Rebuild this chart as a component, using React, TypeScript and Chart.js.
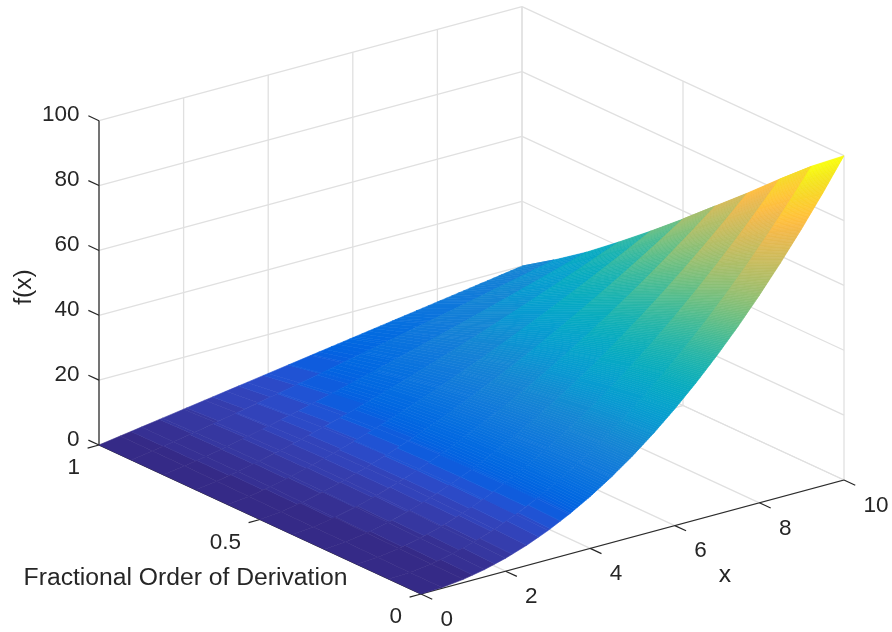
import React, { useEffect, useRef } from "react";
import Chart from "chart.js/auto";

const xValues = [0, 0.5, 1, 1.5, 2, 2.5, 3, 3.5, 4, 4.5, 5, 5.5, 6, 6.5, 7, 7.5, 8, 8.5, 9, 9.5, 10];
const orderValues = [0, 0.1, 0.2, 0.3, 0.4, 0.5, 0.6, 0.7, 0.8, 0.9, 1];

const fOrder00 = [0, 0.25, 1, 2.25, 4, 6.25, 9, 12.25, 16, 20.25, 25, 30.25, 36, 42.25, 49, 56.25, 64, 72.25, 81, 90.25, 100];
const fOrder01 = [0, 0.31, 1.16, 2.51, 4.33, 6.62, 9.36, 12.55, 16.17, 20.23, 24.71, 29.61, 34.94, 40.68, 46.83, 53.39, 60.36, 67.72, 75.49, 83.66, 92.2];
const fOrder02 = [0, 0.38, 1.33, 2.75, 4.61, 6.89, 9.57, 12.63, 16.07, 19.86, 24.01, 28.5, 33.34, 38.5, 44, 49.81, 55.95, 62.4, 69.16, 76.24, 83.6];
const fOrder03 = [0, 0.46, 1.49, 2.97, 4.84, 7.07, 9.64, 12.53, 15.73, 19.22, 22.99, 27.03, 31.34, 35.9, 40.73, 45.79, 51.11, 56.65, 62.44, 68.45, 74.7];
const fOrder04 = [0, 0.55, 1.66, 3.18, 5.03, 7.19, 9.63, 12.32, 15.26, 18.42, 21.8, 25.39, 29.19, 33.17, 37.35, 41.71, 46.25, 50.96, 55.84, 60.89, 66.1];
const fOrder05 = [0, 0.64, 1.82, 3.34, 5.14, 7.19, 9.45, 11.9, 14.54, 17.35, 20.33, 23.45, 26.72, 30.13, 33.67, 37.34, 41.14, 45.05, 49.09, 53.23, 57.5];
const fOrder06 = [0, 0.74, 1.96, 3.46, 5.17, 7.07, 9.12, 11.32, 13.64, 16.09, 18.65, 21.31, 24.07, 26.92, 29.87, 32.9, 36.01, 39.2, 42.46, 45.8, 49.2];
const fOrder07 = [0, 0.84, 2.07, 3.5, 5.08, 6.8, 8.62, 10.53, 12.52, 14.59, 16.73, 18.94, 21.21, 23.53, 25.91, 28.35, 30.83, 33.36, 35.93, 38.55, 41.2];
const fOrder08 = [0, 0.92, 2.11, 3.44, 4.86, 6.35, 7.9, 9.51, 11.16, 12.85, 14.58, 16.35, 18.15, 19.98, 21.84, 23.73, 25.64, 27.57, 29.53, 31.51, 33.5];
const fOrder09 = [0, 0.98, 2.11, 3.29, 4.51, 5.77, 7.05, 8.35, 9.67, 11.01, 12.36, 13.73, 15.11, 16.5, 17.9, 19.31, 20.74, 22.17, 23.6, 25.05, 26.5];
const fOrder10 = [0, 1, 2, 3, 4, 5, 6, 7, 8, 9, 10, 11, 12, 13, 14, 15, 16, 17, 18, 19, 20];
const surfaceRows = [fOrder00, fOrder01, fOrder02, fOrder03, fOrder04, fOrder05, fOrder06, fOrder07, fOrder08, fOrder09, fOrder10];

const xTicks = [0, 2, 4, 6, 8, 10];
const orderTicks = [0, 0.5, 1];
const orderTickLabels = ["0", "0.5", "1"];
const zTicks = [0, 20, 40, 60, 80, 100];

const parula = [
  [0.2081, 0.1663, 0.5292], [0.2116, 0.1898, 0.5777], [0.2123, 0.2138, 0.627], [0.2081, 0.2386, 0.6771],
  [0.1959, 0.2645, 0.7279], [0.1707, 0.2919, 0.7792], [0.1253, 0.3242, 0.8303], [0.0591, 0.3598, 0.8683],
  [0.0117, 0.3875, 0.882], [0.006, 0.4086, 0.8828], [0.0165, 0.4266, 0.8786], [0.0329, 0.443, 0.872],
  [0.0498, 0.4586, 0.8641], [0.0629, 0.4737, 0.8554], [0.0723, 0.4887, 0.8467], [0.0779, 0.504, 0.8384],
  [0.0793, 0.52, 0.8312], [0.0749, 0.5375, 0.8263], [0.0641, 0.557, 0.824], [0.0488, 0.5772, 0.8228],
  [0.0343, 0.5966, 0.8199], [0.0265, 0.6137, 0.8135], [0.0239, 0.6287, 0.8038], [0.0231, 0.6418, 0.7913],
  [0.0228, 0.6535, 0.7768], [0.0267, 0.6642, 0.7607], [0.0384, 0.6743, 0.7436], [0.059, 0.6838, 0.7254],
  [0.0843, 0.6928, 0.7062], [0.1133, 0.7015, 0.6859], [0.1453, 0.7098, 0.6646], [0.1801, 0.7177, 0.6424],
  [0.2178, 0.725, 0.6193], [0.2586, 0.7317, 0.5954], [0.3022, 0.7376, 0.5712], [0.3482, 0.7424, 0.5473],
  [0.3953, 0.7459, 0.5244], [0.442, 0.7481, 0.5033], [0.4871, 0.7491, 0.484], [0.53, 0.7491, 0.4661],
  [0.5709, 0.7485, 0.4494], [0.6099, 0.7473, 0.4337], [0.6473, 0.7456, 0.4188], [0.6834, 0.7435, 0.4044],
  [0.7184, 0.7411, 0.3905], [0.7525, 0.7384, 0.3768], [0.7858, 0.7356, 0.3633], [0.8185, 0.7327, 0.3498],
  [0.8507, 0.7299, 0.336], [0.8824, 0.7274, 0.3217], [0.9139, 0.7258, 0.3063], [0.945, 0.7261, 0.2886],
  [0.9739, 0.7314, 0.2666], [0.9938, 0.7455, 0.2403], [0.999, 0.7653, 0.2164], [0.9955, 0.7861, 0.1967],
  [0.988, 0.8066, 0.1794], [0.9789, 0.8271, 0.1633], [0.9697, 0.8481, 0.1475], [0.9626, 0.8705, 0.1309],
  [0.9589, 0.8949, 0.1132], [0.9598, 0.9218, 0.0948], [0.9661, 0.9514, 0.0755], [0.9763, 0.9831, 0.0538],
];

const WIDTH = 892;
const HEIGHT = 632;
const INK = "#262626";
const GRID = "#e0e0e0";
const FONT = '"Liberation Sans", Arial, sans-serif';

// Orthographic view of the box (x, order, f) onto the page.
const project = (x: number, o: number, z: number) => ({
  x: 421 + x * 42.3 - o * 322,
  y: 594 - x * 11.4 - o * 149 - z * 3.243,
});

// Flat colormap levels at the dark, low end; a finer ramp above it.
const FLAT_BELOW = 12.5;
const FINE_STEP = 0.4;
const stepEdges = (z0: number, z1: number) => {
  const edges = [z0];
  let e = 0;
  while (e < z1) {
    e += e < FLAT_BELOW ? 100 / 64 : FINE_STEP;
    if (e > z0 && e < z1) edges.push(e);
  }
  edges.push(z1);
  return edges;
};
const colorAt = (z: number) => {
  let pos: number;
  if (z < FLAT_BELOW) pos = Math.floor((z / 100) * 64);
  else pos = Math.max(0, Math.min(63, (z / 100) * 64 - 0.5));
  const i = Math.min(62, Math.floor(pos));
  const t = pos - i;
  const a = parula[i], b = parula[i + 1];
  const ch = (k: number) => Math.round((a[k] + (b[k] - a[k]) * t) * 255);
  return `rgb(${ch(0)},${ch(1)},${ch(2)})`;
};

const lineSet = (a: number[], b: number[], color: string, width: number) => ({
  type: "scatter",
  showLine: true,
  data: [project(a[0], a[1], a[2]), project(b[0], b[1], b[2])],
  borderColor: color,
  borderWidth: width,
  pointRadius: 0,
  fill: false,
  order: 5,
  clip: false,
});

const buildDatasets = () => {
  const quads: any[] = [];
  // Front cells first: Chart.js paints the first dataset last.
  for (let j = 0; j < orderValues.length - 1; j++) {
    for (let i = xValues.length - 2; i >= 0; i--) {
      quads.push({
        type: "scatter",
        showLine: false,
        quad: true,
        zFrom: surfaceRows[j][i],
        zTo: surfaceRows[j][i + 1],
        data: [
          project(xValues[i], orderValues[j], surfaceRows[j][i]),
          project(xValues[i], orderValues[j + 1], surfaceRows[j + 1][i]),
          project(xValues[i + 1], orderValues[j + 1], surfaceRows[j + 1][i + 1]),
          project(xValues[i + 1], orderValues[j], surfaceRows[j][i + 1]),
        ],
        pointRadius: 0,
        order: 1,
        clip: false,
      });
    }
  }
  const grid: any[] = [];
  zTicks.forEach((z) => {
    grid.push(lineSet([0, 1, z], [10, 1, z], GRID, 1.3));
    grid.push(lineSet([10, 1, z], [10, 0, z], GRID, 1.3));
  });
  xTicks.forEach((x) => {
    grid.push(lineSet([x, 1, 0], [x, 1, 100], GRID, 1.3));
    grid.push(lineSet([x, 0, 0], [x, 1, 0], GRID, 1.3));
  });
  orderTicks.forEach((o) => {
    grid.push(lineSet([10, o, 0], [10, o, 100], GRID, 1.3));
    grid.push(lineSet([0, o, 0], [10, o, 0], GRID, 1.3));
  });
  const axes: any[] = [
    lineSet([0, 1, 0], [0, 1, 100], INK, 1.2),
    lineSet([0, 0, 0], [10, 0, 0], INK, 1.2),
    lineSet([0, 0, 0], [0, 1, 0], INK, 1.2),
  ];
  zTicks.forEach((z) => axes.push(lineSet([0, 1, z], [0, 1.033, z], INK, 1.2)));
  xTicks.forEach((x) => axes.push(lineSet([x, 0, 0], [x, -0.035, 0], INK, 1.2)));
  orderTicks.forEach((o) => axes.push(lineSet([0, o, 0], [-0.27, o, 0], INK, 1.2)));
  axes.forEach((d) => (d.order = 4));
  return [...quads, ...axes, ...grid];
};

const surfacePlugin = {
  id: "surfaceCells",
  afterDatasetDraw(chart: any, args: any) {
    const ds = chart.data.datasets[args.index];
    if (!ds.quad) return;
    const pts = args.meta.data;
    const ctx = chart.ctx;
    const A = pts[0], B = pts[1], D = pts[2], C = pts[3];
    const z0 = ds.zFrom, z1 = ds.zTo;
    const mix = (p: any, q: any, t: number) => ({ x: p.x + (q.x - p.x) * t, y: p.y + (q.y - p.y) * t });
    const edges = stepEdges(z0, z1);
    ctx.save();
    ctx.lineWidth = 0.6;
    ctx.lineJoin = "round";
    for (let k = 0; k < edges.length - 1; k++) {
      const ta = z1 > z0 ? (edges[k] - z0) / (z1 - z0) : 0;
      const tb = z1 > z0 ? (edges[k + 1] - z0) / (z1 - z0) : 1;
      const a = mix(A, C, ta), b = mix(B, D, ta), c = mix(B, D, tb), d = mix(A, C, tb);
      ctx.beginPath();
      ctx.moveTo(a.x, a.y);
      ctx.lineTo(b.x, b.y);
      ctx.lineTo(c.x, c.y);
      ctx.lineTo(d.x, d.y);
      ctx.closePath();
      const col = colorAt((edges[k] + edges[k + 1]) / 2);
      ctx.fillStyle = col;
      ctx.strokeStyle = col;
      ctx.fill();
      ctx.stroke();
    }
    ctx.restore();
  },
  afterDraw(chart: any) {
    const ctx = chart.ctx;
    const sx = chart.scales.x, sy = chart.scales.y;
    const at = (x: number, o: number, z: number) => {
      const p = project(x, o, z);
      return { x: sx.getPixelForValue(p.x), y: sy.getPixelForValue(p.y) };
    };
    ctx.save();
    ctx.fillStyle = INK;
    ctx.textBaseline = "middle";
    ctx.font = `22.5px ${FONT}`;
    ctx.textAlign = "right";
    zTicks.forEach((z) => {
      const p = at(0, 1, z);
      ctx.fillText(String(z), p.x - 19.5, p.y - 5.5);
    });
    orderTicks.forEach((o, i) => {
      const p = at(0, o, 0);
      ctx.fillText(orderTickLabels[i], p.x - 19, p.y + 23);
    });
    ctx.textAlign = "left";
    xTicks.forEach((x) => {
      const p = at(x, 0, 0);
      ctx.fillText(String(x), p.x + 19.5, p.y + 25.5);
    });
    ctx.font = `24.7px ${FONT}`;
    ctx.textAlign = "center";
    ctx.fillText("x", 725, 575);
    ctx.fillText("Fractional Order of Derivation", 185.5, 578);
    ctx.translate(24, 287);
    ctx.rotate(-Math.PI / 2);
    ctx.fillText("f(x)", 0, 0);
    ctx.restore();
  },
};

export default function App() {
  const ref = useRef<HTMLCanvasElement>(null);
  useEffect(() => {
    const chart = new Chart(ref.current as HTMLCanvasElement, {
      type: "scatter",
      data: { datasets: buildDatasets() as any },
      options: {
        animation: false,
        responsive: false,
        layout: { padding: 0 },
        plugins: { legend: { display: false }, tooltip: { enabled: false } },
        scales: {
          x: { type: "linear", min: 0, max: WIDTH, display: false },
          y: { type: "linear", min: 0, max: HEIGHT, reverse: true, display: false },
        },
      },
      plugins: [surfacePlugin as any],
    });
    return () => chart.destroy();
  }, []);
  return (
    <div style={{ position: "fixed", left: 0, top: 0, width: WIDTH, height: HEIGHT, background: "#fff" }}>
      <canvas ref={ref} width={WIDTH} height={HEIGHT} style={{ display: "block" }} />
    </div>
  );
}
